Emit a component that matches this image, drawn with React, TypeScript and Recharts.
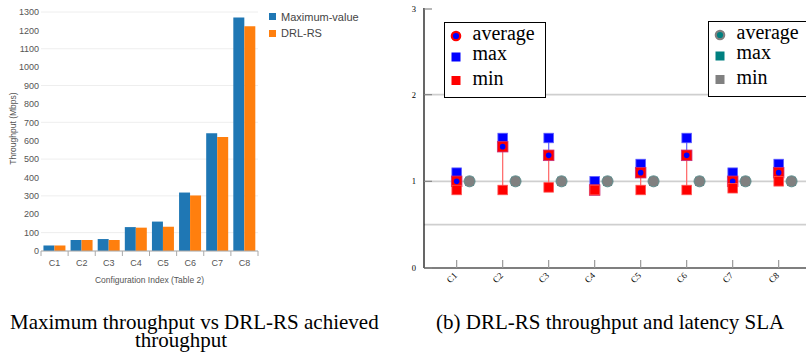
import React from 'react';
import {
  BarChart,
  Bar,
  XAxis,
  YAxis,
  CartesianGrid,
  Legend,
  ScatterChart,
  Scatter,
  ErrorBar,
  ReferenceLine,
} from 'recharts';

// configurations C1..C8
const configs = ['C1', 'C2', 'C3', 'C4', 'C5', 'C6', 'C7', 'C8'];

// left chart: throughput in Mbps
const barSeries = ['Maximum-value', 'DRL-RS'];
const maxThroughput = [30, 60, 65, 130, 160, 318, 640, 1270];
const drlThroughput = [30, 60, 60, 127, 132, 302, 620, 1222];
const throughputTicks = [0, 100, 200, 300, 400, 500, 600, 700, 800, 900, 1000, 1100, 1200, 1300];

// right chart: normalised SLA values
const slaTicks = [0, 1, 2, 3];
const slaGuides = [0.5, 1, 2];
const drlAvg = [1.0, 1.4, 1.3, 0.9, 1.1, 1.3, 1.0, 1.1];
const drlMax = [1.1, 1.5, 1.5, 1.0, 1.2, 1.5, 1.1, 1.2];
const drlMin = [0.9, 0.9, 0.93, 0.9, 0.9, 0.9, 0.92, 1.0];
const refAvg = [1, 1, 1, 1, 1, 1, 1, 1];
const refMax = [1, 1, 1, 1, 1, 1, 1, 1];
const refMin = [1, 1, 1, 1, 1, 1, 1, 1];
const legendLabels = ['average', 'max', 'min'];

const sans = '"Liberation Sans", Arial, sans-serif';
const serif = '"Liberation Serif", "Times New Roman", serif';

const barData = configs.map((c, i) => ({ config: c, max: maxThroughput[i], drl: drlThroughput[i] }));

const slaX = configs.map((_, i) => i + 1);
const REF_SHIFT = 0.28; // second group sits just right of each configuration

const drlPoints = configs.map((c, i) => ({
  x: slaX[i],
  avg: drlAvg[i],
  max: drlMax[i],
  min: drlMin[i],
  up: [0, drlMax[i] - drlAvg[i]],
  down: [drlAvg[i] - drlMin[i], 0],
}));
const refPoints = configs.map((c, i) => ({
  x: slaX[i] + REF_SHIFT,
  avg: refAvg[i],
  max: refMax[i],
  min: refMin[i],
}));

function BarTick(props: any) {
  const { x, y, payload, index } = props;
  const half = payload && payload.offset > 0 ? payload.offset : 13.56;
  return (
    <g>
      <line x1={x - half} x2={x - half} y1={y} y2={y + 5} stroke="#aaa" />
      {index === configs.length - 1 && <line x1={x + half} x2={x + half} y1={y} y2={y + 5} stroke="#aaa" />}
      <text x={x} y={y + 15} textAnchor="middle" fontSize={9} fontFamily={sans} fill="#555">
        {payload.value}
      </text>
    </g>
  );
}

function BarLegend({ payload }: any) {
  const items = [...(payload || [])].sort((a: any, b: any) => barSeries.indexOf(a.value) - barSeries.indexOf(b.value));
  return (
    <div>
      {items.map((p: any) => (
        <div
          key={p.value}
          style={{ display: 'flex', alignItems: 'center', height: 16.6, fontSize: 11, color: '#444', fontFamily: sans, whiteSpace: 'nowrap' }}
        >
          <span style={{ display: 'inline-block', width: 7, height: 7, background: p.color, marginRight: 5 }} />
          {p.value}
        </div>
      ))}
    </div>
  );
}

function ThroughputChart() {
  return (
    <BarChart width={400} height={300} data={barData} margin={{ top: 12, right: 142, left: 0, bottom: 15 }} barGap={0} barCategoryGap="9%">
      <CartesianGrid vertical={false} stroke="#eee" />
      <XAxis
        dataKey="config"
        height={34}
        stroke="#aaa"
        tickLine={false}
        tickSize={0}
        tickMargin={0}
        tick={<BarTick />}
        label={(p: any) => (
          <text x={p.viewBox.x + p.viewBox.width / 2} y={p.viewBox.y + 32} textAnchor="middle" fontSize={8.5} fontFamily={sans} fill="#555">
            Configuration Index (Table 2)
          </text>
        )}
      />
      <YAxis
        width={41}
        domain={[0, 1300]}
        ticks={throughputTicks}
        axisLine={false}
        tickLine={false}
        tickSize={0}
        tickMargin={2}
        tick={{ fontSize: 9, fill: '#555', fontFamily: sans }}
        label={(p: any) => {
          const cx = p.viewBox.x + 14;
          const cy = p.viewBox.y + p.viewBox.height / 2 - 3;
          return (
            <text x={cx} y={cy} transform={`rotate(-90 ${cx} ${cy})`} textAnchor="middle" dominantBaseline="middle" fontSize={8.5} fontFamily={sans} fill="#555">
              Throughput (Mbps)
            </text>
          );
        }}
      />
      <Legend layout="vertical" align="center" verticalAlign="middle" wrapperStyle={{ left: 269, top: 8.4, width: 120 }} content={<BarLegend />} />
      <Bar dataKey="max" name={barSeries[0]} fill="#1f77b4" isAnimationActive={false} />
      <Bar dataKey="drl" name={barSeries[1]} fill="#ff7f0e" isAnimationActive={false} />
    </BarChart>
  );
}

// ---- right chart shapes ----
const square = (fill: string, size: number, stroke?: string) => (p: any) =>
  p.cx == null ? <g /> : (
    <rect x={p.cx - size / 2} y={p.cy - size / 2} width={size} height={size} fill={fill} stroke={stroke || 'none'} strokeWidth={0.8} />
  );

const DrlAvgShape = (p: any) =>
  p.cx == null ? <g /> : (
    <g>
      <rect x={p.cx - 5.3} y={p.cy - 5.3} width={10.6} height={10.6} fill="#ff0000" stroke="#c8307a" strokeWidth={0.8} />
      <circle cx={p.cx} cy={p.cy} r={2.8} fill="#0000ff" />
    </g>
  );

const RefAvgShape = (p: any) =>
  p.cx == null ? <g /> : <circle cx={p.cx} cy={p.cy} r={5.5} fill="#808080" stroke="#5e8f8f" strokeWidth={1} />;

const Empty = () => <g />;

function SlaYTick(props: any) {
  const { x, y, payload } = props;
  return (
    <g>
      <line x1={x} x2={x + 8} y1={y} y2={y} stroke="#888" strokeWidth={1.2} />
      <text x={x - 8} y={y + 3} textAnchor="end" fontSize={8.5} fontFamily={serif} fill="#000">
        {payload.value}
      </text>
    </g>
  );
}

function SlaXTick(props: any) {
  const { x, y, payload } = props;
  const tx = x + 1;
  const ty = y + 8;
  return (
    <g>
      <line x1={x} x2={x} y1={y} y2={y - 8} stroke="#999" strokeWidth={1.2} />
      <text x={tx} y={ty} transform={`rotate(-45 ${tx} ${ty})`} textAnchor="end" fontSize={9} fontFamily={serif} fill="#000">
        {configs[payload.value - 1]}
      </text>
    </g>
  );
}

function SlaTopTick(props: any) {
  const { x, y } = props;
  return <line x1={x} x2={x} y1={y} y2={y + 8} stroke="#999" strokeWidth={1.2} />;
}

type Marker = (cx: number, cy: number) => React.ReactNode;

function LegendBox({ left, top, width, markers }: { left: number; top: number; width: number; markers: Marker[] }) {
  const markerY = [14, 35, 58.5];
  const textY = [17.5, 38, 63];
  return (
    <svg width={width} height={77} style={{ position: 'absolute', left, top, overflow: 'visible' }}>
      <rect x={0.5} y={0.5} width={width - 1} height={75} fill="#fff" stroke="#000" strokeWidth={1} />
      {legendLabels.map((label, i) => (
        <g key={label}>
          {markers[i](12, markerY[i])}
          <text x={28.5} y={textY[i]} fontSize={20} fontFamily={serif} fill="#000">
            {label}
          </text>
        </g>
      ))}
    </svg>
  );
}

const sq = (fill: string) => (cx: number, cy: number) => <rect x={cx - 4.5} y={cy - 4.5} width={9} height={9} fill={fill} />;
const ring = (stroke: string, fill: string) => (cx: number, cy: number) => (
  <circle cx={cx} cy={cy} r={4.2} fill={fill} stroke={stroke} strokeWidth={2.2} />
);

function SlaLegend() {
  return (
    <div style={{ position: 'relative' }}>
      <LegendBox left={64} top={22} width={102} markers={[ring('#ff0000', '#0000ff'), sq('#0000ff'), sq('#ff0000')]} />
      <LegendBox left={328} top={21} width={120} markers={[ring('#808080', '#008080'), sq('#008080'), sq('#808080')]} />
    </div>
  );
}

function SlaChart() {
  return (
    <ScatterChart width={440} height={300} margin={{ top: 8, right: 5, left: 0, bottom: 2 }}>
      {slaGuides.map((v) => (
        <ReferenceLine key={v} y={v} stroke="#cfcfcf" strokeWidth={1.6} />
      ))}
      <XAxis
        type="number"
        dataKey="x"
        domain={[0.29, 8.79]}
        allowDataOverflow
        ticks={slaX}
        height={30}
        stroke="#000"
        strokeWidth={1.2}
        tickLine={false}
        tickSize={0}
        tickMargin={0}
        tick={<SlaXTick />}
      />
      <XAxis
        xAxisId="top"
        orientation="top"
        type="number"
        dataKey="x"
        domain={[0.29, 8.79]}
        allowDataOverflow
        ticks={slaX}
        height={0}
        stroke="#000"
        strokeWidth={1.2}
        tickLine={false}
        tickSize={0}
        tickMargin={0}
        tick={<SlaTopTick />}
      />
      <YAxis
        type="number"
        domain={[0, 3]}
        allowDataOverflow
        ticks={slaTicks}
        width={44}
        stroke="#000"
        strokeWidth={1.2}
        tickLine={false}
        tickSize={0}
        tickMargin={0}
        tick={<SlaYTick />}
      />
      <Legend layout="vertical" align="center" verticalAlign="middle" wrapperStyle={{ left: 0, top: 0, width: 440 }} content={<SlaLegend />} />
      <Scatter name="range" data={drlPoints} dataKey="avg" shape={Empty} legendType="none" isAnimationActive={false}>
        <ErrorBar dataKey="up" direction="y" width={0} stroke="#6f6fff" strokeWidth={1.3} />
        <ErrorBar dataKey="down" direction="y" width={0} stroke="#ff6f6f" strokeWidth={1.3} />
      </Scatter>
      <Scatter name="max" data={drlPoints} dataKey="max" shape={square('#0000ff', 9.5, '#5a5aff')} isAnimationActive={false} />
      <Scatter name="average" data={drlPoints} dataKey="avg" shape={DrlAvgShape} isAnimationActive={false} />
      <Scatter name="min" data={drlPoints} dataKey="min" shape={square('#ff0000', 9.5, '#ff5050')} isAnimationActive={false} />
      <Scatter name="ref max" data={refPoints} dataKey="max" shape={square('#008080', 9)} isAnimationActive={false} />
      <Scatter name="ref min" data={refPoints} dataKey="min" shape={square('#808080', 9)} isAnimationActive={false} />
      <Scatter name="ref average" data={refPoints} dataKey="avg" shape={RefAvgShape} isAnimationActive={false} />
    </ScatterChart>
  );
}

export default function App() {
  const cap: React.CSSProperties = { position: 'absolute', fontFamily: serif, fontSize: 21, lineHeight: '17px', color: '#000', whiteSpace: 'nowrap' };
  return (
    <div style={{ position: 'absolute', left: 0, top: 0, width: 806, height: 353, overflow: 'hidden', background: '#fff' }}>
      <div style={{ position: 'absolute', left: 0, top: 0 }}>
        <ThroughputChart />
      </div>
      <div style={{ position: 'absolute', left: 380, top: 0 }}>
        <SlaChart />
      </div>
      <div style={{ ...cap, left: 10, top: 314, width: 368, textAlign: 'justify', textAlignLast: 'justify' }}>
        Maximum throughput vs DRL-RS achieved
      </div>
      <div style={{ ...cap, left: 81, top: 332, width: 200, textAlign: 'center' }}>throughput</div>
      <div style={{ ...cap, left: 436, top: 314 }}>(b) DRL-RS throughput and latency SLA</div>
    </div>
  );
}
